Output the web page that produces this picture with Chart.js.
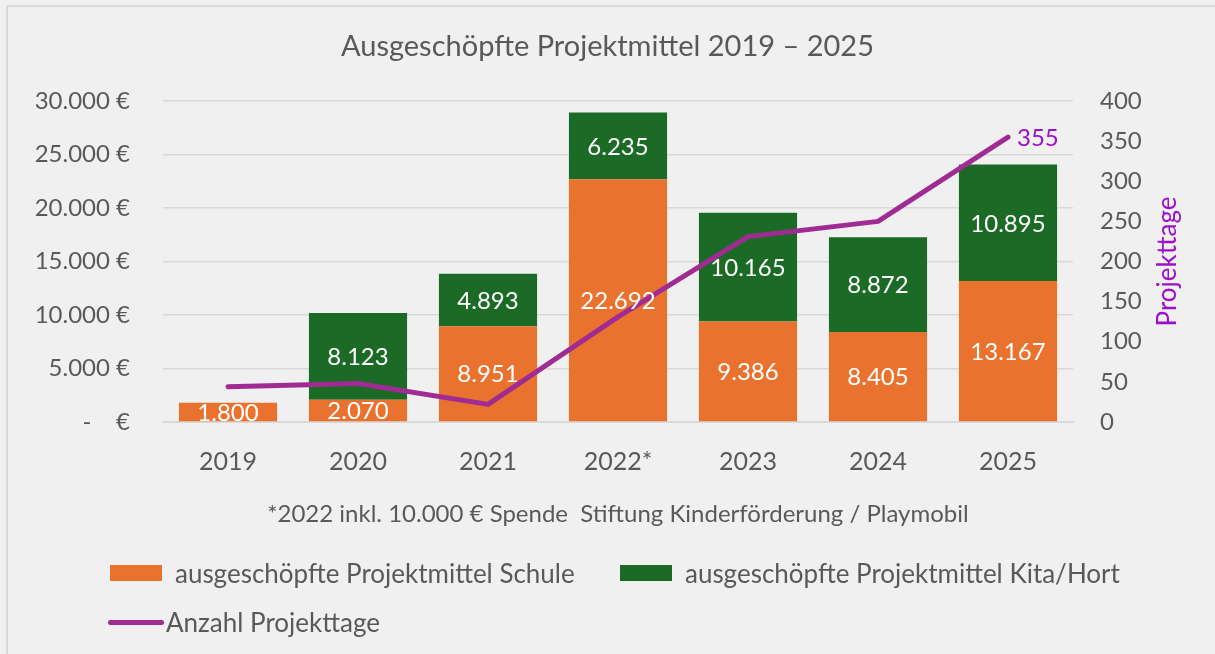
<!DOCTYPE html>
<html>
<head>
<meta charset="utf-8">
<script src="https://cdn.jsdelivr.net/npm/chart.js@4/dist/chart.umd.min.js"></script>
<style>
  html, body { margin: 0; padding: 0; background: #f0f0f0; }
  body { width: 1215px; height: 654px; position: relative; overflow: hidden; font-family: Lato, sans-serif; }
  #frame { position: absolute; left: 6px; top: 5px; right: -10px; bottom: -10px; border-left: 2px solid #d9d9d9; border-top: 2px solid #d9d9d9; }
  #chart { position: absolute; left: 0; top: 0; }
  .leg { position: absolute; display: flex; align-items: center; color: #595959; font-size: 26px; white-space: nowrap; }
  .box { width: 52px; height: 16px; margin-right: 13px; }
  .ln { width: 56px; height: 5px; border-radius: 3px; margin-right: 2px; background: #a02b93; }
</style>
</head>
<body>
<div id="frame"></div>
<canvas id="chart" width="1215" height="654"></canvas>
<div class="leg" style="left:110px; top:557px;"><div class="box" style="background:#e9722f"></div><span>ausgeschöpfte Projektmittel Schule</span></div>
<div class="leg" style="left:620px; top:557px;"><div class="box" style="background:#1b6a25"></div><span>ausgeschöpfte Projektmittel Kita/Hort</span></div>
<div class="leg" style="left:108px; top:606px;"><div class="ln"></div><span>Anzahl Projekttage</span></div>
<script>
const categories = ['2019', '2020', '2021', '2022*', '2023', '2024', '2025'];
const schule = [1800, 2070, 8951, 22692, 9386, 8405, 13167];
const kita = [null, 8123, 4893, 6235, 10165, 8872, 10895];
const projekttage = [44, 48, 22, 131, 231, 250, 355];
const leftTicks = [0, 5000, 10000, 15000, 20000, 25000, 30000];
const rightTicks = [0, 50, 100, 150, 200, 250, 300, 350, 400];

const textColor = '#595959';
const purple = '#a02b93';
const purpleText = '#9b10c8';
const FONT = 'Lato';

const fmt = v => v.toLocaleString('de-DE');

const labelPlugin = {
  id: 'labels',
  afterDatasetsDraw(chart) {
    const ctx = chart.ctx;
    ctx.save();
    ctx.textAlign = 'center';
    ctx.textBaseline = 'middle';
    ctx.font = '24px ' + FONT;
    ctx.fillStyle = '#ffffff';
    [0, 1].forEach(di => {
      const meta = chart.getDatasetMeta(di);
      const data = chart.data.datasets[di].data;
      meta.data.forEach((bar, i) => {
        if (data[i] == null) return;
        const p = bar.getProps(['x', 'y', 'base'], true);
        ctx.fillText(fmt(data[i]), p.x, (p.y + p.base) / 2 + 1);
      });
    });
    // line label: last point only
    const lm = chart.getDatasetMeta(2);
    const last = lm.data[lm.data.length - 1];
    ctx.textAlign = 'left';
    ctx.fillStyle = purpleText;
    ctx.font = '24px ' + FONT;
    ctx.fillText(String(projekttage[projekttage.length - 1]), last.x + 9, last.y + 1);
    // right axis title, reading bottom-to-top
    const ca = chart.chartArea;
    ctx.translate(1168, (ca.top + ca.bottom) / 2);
    ctx.rotate(-Math.PI / 2);
    ctx.textAlign = 'center';
    ctx.fillStyle = purpleText;
    ctx.font = '26px ' + FONT;
    ctx.fillText('Projekttage', 0, 0);
    ctx.restore();
  }
};

new Chart(document.getElementById('chart'), {
  data: {
    labels: categories,
    datasets: [
      { type: 'bar', label: 'ausgeschöpfte Projektmittel Schule', data: schule, backgroundColor: '#e9722f', yAxisID: 'y', stack: 's', order: 2, barPercentage: 0.755, categoryPercentage: 1 },
      { type: 'bar', label: 'ausgeschöpfte Projektmittel Kita/Hort', data: kita, backgroundColor: '#1b6a25', yAxisID: 'y', stack: 's', order: 2, barPercentage: 0.755, categoryPercentage: 1 },
      { type: 'line', label: 'Anzahl Projekttage', data: projekttage, borderColor: purple, borderWidth: 5, pointRadius: 0, tension: 0, yAxisID: 'y1', order: 1, borderCapStyle: 'round', borderJoinStyle: 'round' }
    ]
  },
  options: {
    responsive: false,
    animation: false,
    layout: { padding: { top: 0, left: 10, right: 10, bottom: 125 } },
    plugins: {
      legend: { display: false },
      tooltip: { enabled: false },
      title: {
        display: true,
        text: 'Ausgeschöpfte Projektmittel 2019 – 2025',
        color: textColor,
        font: { family: FONT, size: 29, weight: 'normal', lineHeight: 1.2 },
        padding: { top: 29.6, bottom: 36.6 }
      }
    },
    scales: {
      x: {
        stacked: true,
        grid: { display: false, drawTicks: false },
        border: { display: true, color: '#d9d9d9', width: 2 },
        ticks: { color: textColor, font: { family: FONT, size: 25 }, padding: 25 },
        title: {
          display: true,
          text: '*2022 inkl. 10.000 € Spende  Stiftung Kinderförderung / Playmobil',
          color: textColor,
          font: { family: FONT, size: 24, lineHeight: 1.2 },
          padding: { top: 0, bottom: 0 }
        },
        afterFit(s) { s.height = 107; }
      },
      y: {
        stacked: true,
        position: 'left',
        min: 0, max: 30000,
        afterBuildTicks(s) { s.ticks = leftTicks.map(v => ({ value: v })); },
        grid: { color: '#d9d9d9', lineWidth: 1.5, drawTicks: false },
        border: { display: false },
        ticks: {
          color: textColor, font: { family: FONT, size: 24 }, padding: 33,
          callback: v => v === 0 ? '-    €' : fmt(v) + ' €'
        },
        afterFit(s) { s.width = 153; }
      },
      y1: {
        position: 'right',
        min: 0, max: 400,
        afterBuildTicks(s) { s.ticks = rightTicks.map(v => ({ value: v })); },
        grid: { display: false, drawTicks: false },
        border: { display: false },
        ticks: { color: textColor, font: { family: FONT, size: 24 }, padding: 27 },
        afterFit(s) { s.width = 132; }
      }
    }
  },
  plugins: [labelPlugin]
});
</script>
</body>
</html>
